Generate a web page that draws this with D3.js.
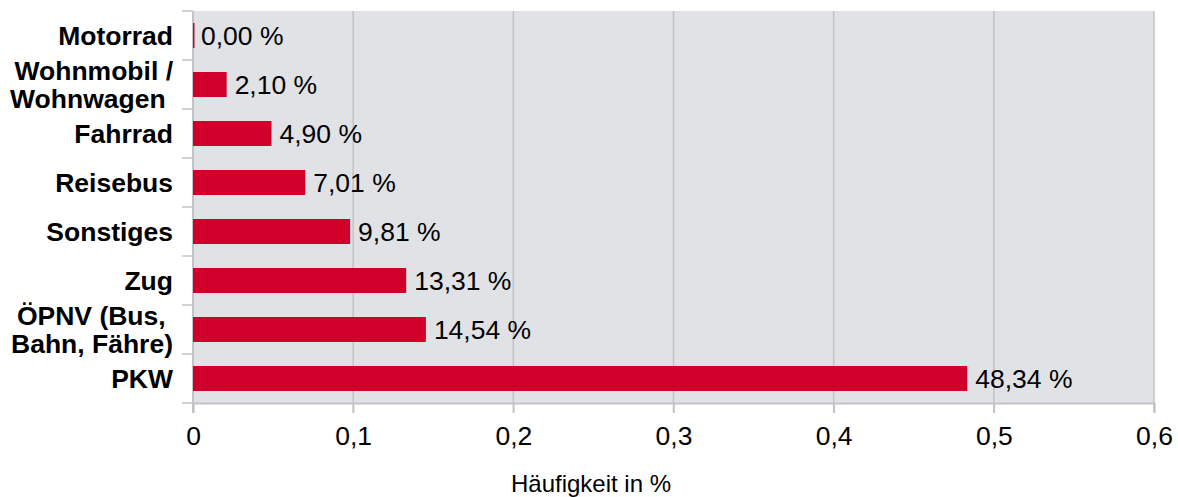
<!DOCTYPE html>
<html>
<head>
<meta charset="utf-8">
<script src="https://cdn.jsdelivr.net/npm/d3@7"></script>
<style>
  body { margin: 0; background: #fff; }
  svg text { font-family: "Liberation Sans", Arial, sans-serif; }
</style>
</head>
<body>
<div id="chart"></div>
<script>
// categories top to bottom, label lines split for the wrapped ones
var categories = ["Motorrad", "Wohnmobil /|Wohnwagen\u00a0", "Fahrrad", "Reisebus", "Sonstiges", "Zug", "ÖPNV (Bus,\u00a0|Bahn, Fähre)", "PKW"];
var shares = [0.0000, 0.0210, 0.0490, 0.0701, 0.0981, 0.1331, 0.1454, 0.4834];
var valueLabels = ["0,00 %", "2,10 %", "4,90 %", "7,01 %", "9,81 %", "13,31 %", "14,54 %", "48,34 %"];
var xTicks = [0, 0.1, 0.2, 0.3, 0.4, 0.5, 0.6];

var width = 1178, height = 497;
var margin = {top: 11, right: 24, bottom: 94, left: 193};
var fs = 26.5;

var svg = d3.select("#chart").append("svg")
  .attr("width", width)
  .attr("height", height);

var x = d3.scaleLinear().domain([0, 0.6]).range([margin.left, width - margin.right]);
var y = d3.scaleBand().domain(d3.range(categories.length))
  .range([margin.top, height - margin.bottom]).paddingInner(0.49).paddingOuter(0.245);
var yEdges = d3.scaleLinear().domain([0, categories.length]).range([margin.top, height - margin.bottom]);

// plot background
svg.append("rect")
  .attr("x", x(0)).attr("y", margin.top)
  .attr("width", x(0.6) - x(0)).attr("height", height - margin.bottom - margin.top)
  .style("fill", "#e1e2e6");

// vertical gridlines
svg.selectAll(".grid").data(xTicks.slice(1)).enter().append("line")
  .attr("x1", function(d){ return x(d); }).attr("x2", function(d){ return x(d); })
  .attr("y1", margin.top).attr("y2", height - margin.bottom + 10)
  .style("stroke", "#c3c3c5").style("stroke-width", 1.5);

// x axis
var xAxis = svg.append("g")
  .attr("transform", "translate(0," + (height - margin.bottom) + ")")
  .call(d3.axisBottom(x).tickValues(xTicks).tickSize(10).tickPadding(13)
    .tickFormat(function(d){ return String(d).replace(".", ","); }));
xAxis.select(".domain").style("stroke", "#c3c3c5").style("stroke-width", 2);
xAxis.selectAll(".tick line").style("stroke", "#c3c3c5").style("stroke-width", 1.5);
xAxis.selectAll(".tick text").style("font-size", fs + "px").style("fill", "#000");

// y axis line and ticks at the band edges
svg.append("line")
  .attr("x1", x(0)).attr("x2", x(0))
  .attr("y1", margin.top).attr("y2", height - margin.bottom + 10)
  .style("stroke", "#c3c3c5").style("stroke-width", 2);
svg.selectAll(".ytick").data(d3.range(categories.length + 1)).enter().append("line")
  .attr("x1", x(0) - 11).attr("x2", x(0))
  .attr("y1", function(d){ return yEdges(d); }).attr("y2", function(d){ return yEdges(d); })
  .style("stroke", "#c3c3c5").style("stroke-width", 1.5);

// bars
svg.selectAll(".bar").data(shares).enter().append("rect")
  .attr("x", x(0))
  .attr("y", function(d, i){ return y(i); })
  .attr("width", function(d){ return Math.max(1.5, x(d) - x(0)); })
  .attr("height", y.bandwidth())
  .style("fill", "#d0002a");

// value labels
svg.selectAll(".val").data(shares).enter().append("text")
  .attr("x", function(d){ return x(d) + 8; })
  .attr("y", function(d, i){ return y(i) + y.bandwidth() / 2; })
  .attr("dy", "0.35em")
  .style("font-size", fs + "px")
  .text(function(d, i){ return valueLabels[i]; });

// category labels (two-line ones get 28px line spacing)
categories.forEach(function(c, i){
  var lines = c.split("|");
  var cy = y(i) + y.bandwidth() / 2;
  var t = svg.append("text")
    .attr("x", 173)
    .attr("text-anchor", "end")
    .style("font-size", fs + "px")
    .style("font-weight", "bold");
  lines.forEach(function(l, k){
    t.append("tspan")
      .attr("x", 173)
      .attr("y", cy + (k - (lines.length - 1) / 2) * 28)
      .attr("dy", "0.35em")
      .text(l);
  });
});

// axis title
svg.append("text")
  .attr("x", 591).attr("y", 492)
  .attr("text-anchor", "middle")
  .style("font-size", "24px")
  .text("Häufigkeit in %");
</script>
</body>
</html>
